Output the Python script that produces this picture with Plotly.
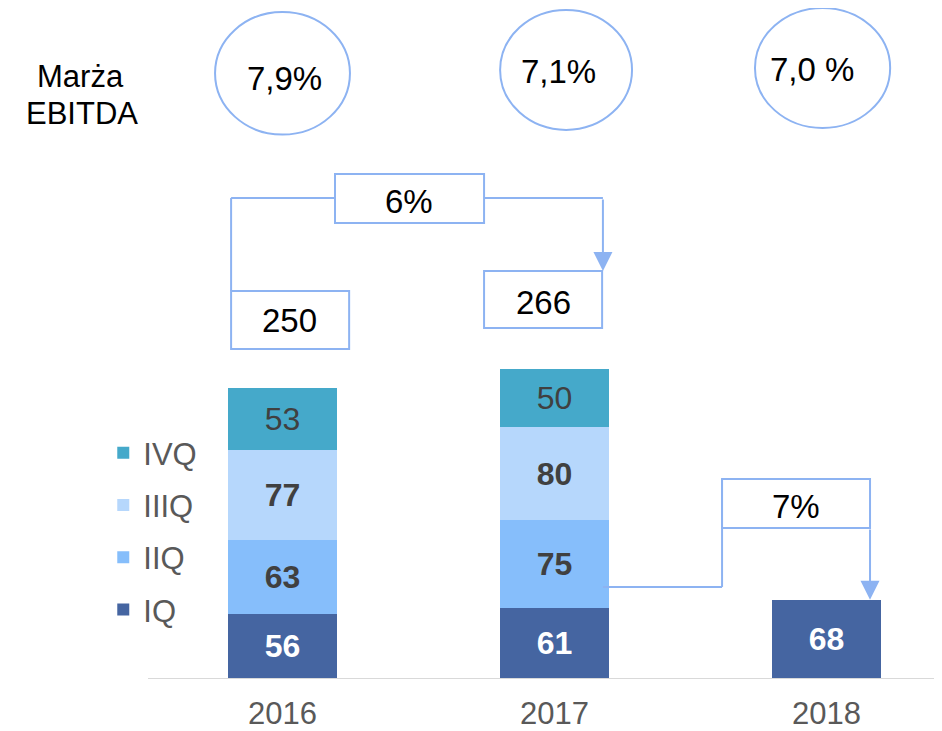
import plotly.graph_objects as go

years = [2016, 2017, 2018]
q1 = [56, 61, 68]
q2 = [63, 75, None]
q3 = [77, 80, None]
q4 = [53, 50, None]
totals = [250, 266]
margins = ["7,9%", "7,1%", "7,0 %"]
growth = ["6%", "7%"]

FONT = "Liberation Sans, Arial, sans-serif"
LINE = "#8DB3F2"
DARK = "#404040"
GREY = "#595959"

# name, values, colour, label colour, bold label, legend rank
series = [
    ("IQ", q1, "#4565A1", "white", True, 4),
    ("IIQ", q2, "#86BEFB", DARK, True, 3),
    ("IIIQ", q3, "#B6D7FC", DARK, True, 2),
    ("IVQ", q4, "#45A9CA", DARK, False, 1),
]

fig = go.Figure()
for name, vals, color, tcolor, bold, rank in series:
    labels = ["" if v is None else (f"<b>{v}</b>" if bold else str(v)) for v in vals]
    fig.add_trace(go.Bar(
        x=years, y=vals, name=name, legendgroup=name, legendrank=rank,
        marker=dict(color=color, line=dict(width=0)),
        width=0.4,
        text=labels, textposition="inside", insidetextanchor="middle",
        textfont=dict(family=FONT, size=32, color=tcolor),
        hoverinfo="skip",
    ))

shapes = []
annotations = []


def box(x0, x1, y0, y1):
    shapes.append(dict(type="rect", xref="x", yref="y", x0=x0, x1=x1, y0=y0, y1=y1,
                       line=dict(color=LINE, width=2), fillcolor="white", layer="above"))


def seg(x0, y0, x1, y1):
    shapes.append(dict(type="line", xref="x", yref="y", x0=x0, y0=y0, x1=x1, y1=y1,
                       line=dict(color=LINE, width=2), layer="above"))


def label(x, y, text, size=33, color="black"):
    annotations.append(dict(x=x, y=y, xref="x", yref="y", text=text, showarrow=False,
                            font=dict(family=FONT, size=size, color=color)))


def arrow(x, y_from, y_to):
    annotations.append(dict(x=x, y=y_to, ax=x, ay=y_from, xref="x", yref="y",
                            axref="x", ayref="y", text="", showarrow=True,
                            arrowhead=2, arrowsize=1.9, arrowwidth=2,
                            arrowcolor=LINE, standoff=0))


# EBITDA margin bubbles
circles = [(2015.752, 2016.248, 466.6, 571.7),
           (2016.800, 2017.285, 470.6, 573.4),
           (2017.737, 2018.234, 472.3, 575.1)]
text_pos = [(2016.009, 515.1), (2017.013, 520.3), (2017.947, 522.0)]
for (cx0, cx1, cy0, cy1), (tx, ty), m in zip(circles, text_pos, margins):
    shapes.append(dict(type="circle", xref="x", yref="y", x0=cx0, x1=cx1, y0=cy0, y1=cy1,
                       line=dict(color=LINE, width=2)))
    label(tx, ty, m)
label(2015.257, 516.0, "Marża", size=31)
label(2015.263, 485.1, "EBITDA", size=31)

# 2016 -> 2017 growth
seg(2015.811, 332.6, 2015.811, 412.3)
seg(2015.811, 412.3, 2016.193, 412.3)
seg(2016.741, 412.3, 2017.178, 412.3)
arrow(2017.178, 412.3, 349.7)
box(2016.193, 2016.741, 390.9, 432.8)
label(2016.465, 409.5, growth[0])
box(2015.811, 2016.245, 282.9, 332.6)
label(2016.026, 306.9, str(totals[0]))
box(2016.741, 2017.175, 300.9, 349.7)
label(2016.958, 323.1, str(totals[1]))

# 2017 Q1 -> 2018 Q1 growth
seg(2017.178, 78.9, 2017.616, 78.9)
seg(2017.616, 78.9, 2017.616, 171.4)
box(2017.616, 2018.160, 129.4, 171.4)
label(2017.888, 148.0, growth[1])
arrow(2018.160, 129.4, q1[2])

# baseline
shapes.append(dict(type="line", xref="x", yref="y", x0=2015.5055, x1=2018.4173, y0=0, y1=0,
                   line=dict(color="#D9D9D9", width=2)))

fig.update_layout(
    barmode="stack",
    width=934, height=723,
    margin=dict(l=0, r=0, t=0, b=52, autoexpand=False),
    paper_bgcolor="white", plot_bgcolor="white",
    shapes=shapes, annotations=annotations,
    showlegend=True,
    legend=dict(
        x=0.102, y=0.377, xanchor="left", yanchor="top",
        traceorder="grouped", tracegroupgap=9,
        font=dict(family=FONT, size=31, color=GREY),
        bgcolor="rgba(0,0,0,0)",
    ),
    xaxis=dict(range=[2014.9908, 2018.4246], tickvals=years, ticktext=[str(y) for y in years],
               showgrid=False, zeroline=False, showline=False, ticks="", automargin=False,
               tickfont=dict(family=FONT, size=31, color=GREY), ticklabelstandoff=13),
    yaxis=dict(range=[0, 575.1], visible=False, showgrid=False, zeroline=False,
               automargin=False),
)

fig.write_html("out.html")
